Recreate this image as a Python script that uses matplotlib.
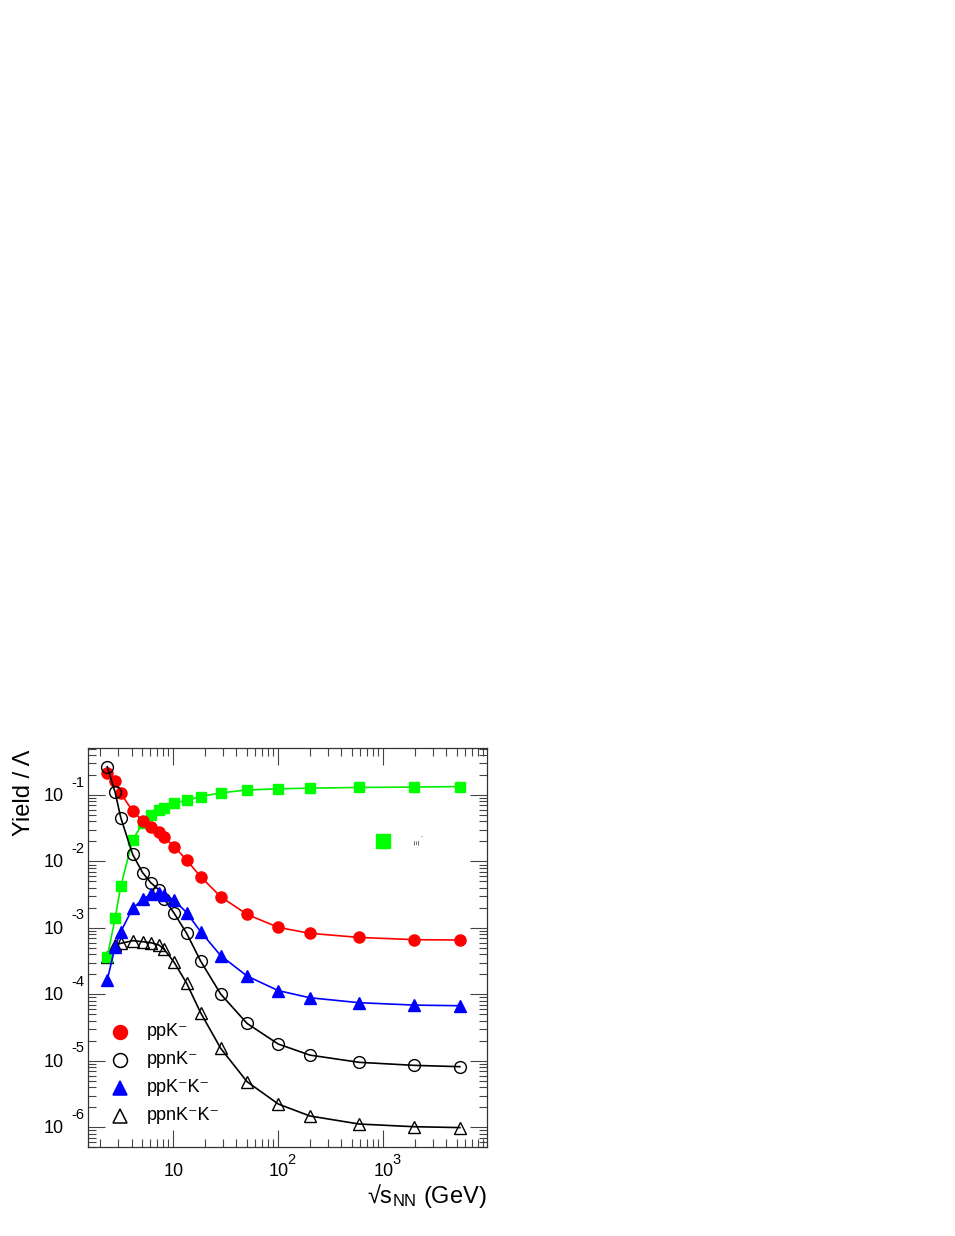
import math
import matplotlib
matplotlib.use("Agg")
import matplotlib.pyplot as plt
from matplotlib.ticker import LogLocator, FixedLocator, NullFormatter
from matplotlib.transforms import blended_transform_factory, offset_copy

plt.rcParams['font.family'] = ['Liberation Sans', 'DejaVu Sans']
plt.rcParams['mathtext.fontset'] = 'custom'
plt.rcParams['mathtext.rm'] = 'Liberation Sans'
plt.rcParams['mathtext.it'] = 'Liberation Sans'

# --- data ---
sqrt_s = [2.35, 2.79, 3.16, 4.1, 5.1, 6.1, 7.3, 8.2, 10.2, 13.4, 18.2, 28.3,
          50.4, 100, 200, 590, 1975, 5370]

ppK = [0.212, 0.163, 0.106, 0.0574, 0.0411, 0.0334, 0.0274, 0.0231, 0.0167,
       0.0105, 0.0059, 0.00295, 0.0016, 0.00102, 0.00083, 0.00072, 0.000666, 0.000658]

ppnK = [0.267, 0.110, 0.0456, 0.0128, 0.00679, 0.0048, 0.00372, 0.00272, 0.00166,
        0.00083, 0.000318, 1.01e-4, 3.66e-5, 1.79e-5, 1.22e-5, 9.5e-6, 8.55e-6, 8.17e-6]

ppKK = [1.65e-4, 5.2e-4, 8.8e-4, 1.97e-3, 2.69e-3, 3.2e-3, 3.32e-3, 3.13e-3, 2.63e-3,
        1.70e-3, 8.8e-4, 3.83e-4, 1.89e-4, 1.14e-4, 8.9e-5, 7.5e-5, 6.9e-5, 6.75e-5]

ppnKK = [3.7e-4, 5.53e-4, 5.86e-4, 6.43e-4, 6.21e-4, 6.0e-4, 5.53e-4, 4.76e-4, 3.03e-4,
         1.47e-4, 5.3e-5, 1.54e-5, 4.86e-6, 2.24e-6, 1.48e-6, 1.12e-6, 1.02e-6, 9.9e-7]

xi = [0.00037, 0.00139, 0.00428, 0.021, 0.0375, 0.05, 0.0594, 0.0644, 0.075,
      0.084, 0.0944, 0.108, 0.119, 0.124, 0.127, 0.130, 0.132, 0.134]

x_major = [10, 100, 1000]
y_major = [1e-1, 1e-2, 1e-3, 1e-4, 1e-5, 1e-6]

W, H = 955, 1236
fig = plt.figure(figsize=(W / 100, H / 100), dpi=100)
ax = fig.add_axes([88.3 / W, 1 - 1147.3 / H, (487.3 - 88.3) / W, (1147.3 - 748.3) / H])
ax.set_xscale('log')
ax.set_yscale('log')

lw = 1.2
ax.plot(sqrt_s, xi, color='#00ee00', lw=lw, marker='s', ms=7.5, mfc='#00ff00',
        mec='#00ff00', zorder=3)
ax.plot(sqrt_s, ppK, color='red', lw=lw, marker='o', ms=8, mfc='red', mec='red', zorder=4)
ax.plot(sqrt_s, ppnK, color='black', lw=lw, marker='o', ms=8.5, mfc='none', mec='black',
        mew=1.0, zorder=4)
ax.plot(sqrt_s, ppKK, color='blue', lw=lw, marker='^', ms=8, mfc='blue', mec='blue', zorder=4)
ax.plot(sqrt_s, ppnKK, color='black', lw=lw, marker='^', ms=8.5, mfc='none', mec='black',
        mew=1.0, zorder=2)

ax.set_xlim(1.55, 9800)
ax.set_ylim(5.0e-7, 0.505)

# ticks ROOT style
ax.xaxis.set_major_locator(FixedLocator(x_major))
ax.xaxis.set_minor_locator(LogLocator(base=10, subs=range(2, 10), numticks=20))
ax.yaxis.set_major_locator(FixedLocator(y_major))
ax.yaxis.set_minor_locator(LogLocator(base=10, subs=range(2, 10), numticks=20))
ax.xaxis.set_major_formatter(NullFormatter())
ax.yaxis.set_major_formatter(NullFormatter())
ax.xaxis.set_minor_formatter(NullFormatter())
ax.yaxis.set_minor_formatter(NullFormatter())
ax.tick_params(which='both', direction='in', top=True, right=True, width=0.8,
               color='#444444')
ax.tick_params(which='major', length=12)
ax.tick_params(which='minor', length=6)
for s in ax.spines.values():
    s.set_linewidth(0.9)
    s.set_color('#333333')

# ROOT-like tick labels: "10" with a detached exponent
base_fs = 13
exp_fs = 10.5
ty = blended_transform_factory(fig.transFigure, ax.transData)
for v in y_major:
    e = int(round(math.log10(v)))
    ax.text(63.5 / W, v, '10', transform=offset_copy(ty, fig=fig, x=0, y=-1.5, units='dots'),
            ha='right', va='center', fontsize=base_fs)
    ax.text(71 / W, v, '%d' % e, transform=offset_copy(ty, fig=fig, x=0, y=12.5, units='dots'),
            ha='left', va='center', fontsize=exp_fs)

tx = blended_transform_factory(ax.transData, fig.transFigure)
for v in x_major:
    e = int(round(math.log10(v)))
    ax.text(v, 1 - 1171 / H, '10', transform=tx, ha='center', va='center', fontsize=base_fs)
    if e != 1:
        ax.text(v, 1 - 1160.5 / H, '%d' % e,
                transform=offset_copy(tx, fig=fig, x=13, y=0, units='dots'),
                ha='center', va='center', fontsize=exp_fs)

# axis titles
fig.text(487 / W, 1 - 1196 / H, '√s$_{\\mathregular{NN}}$ (GeV)',
         ha='right', va='center', fontsize=17)
fig.text(24.5 / W, 1 - 750 / H, 'Yield / Λ', rotation=90, ha='center', va='top', fontsize=17)

# legend (manual, ROOT-like)
leg_rows = [
    ('o', 'red', 'red', 'ppK⁻'),
    ('o', 'none', 'black', 'ppnK⁻'),
    ('^', 'blue', 'blue', 'ppK⁻K⁻'),
    ('^', 'none', 'black', 'ppnK⁻K⁻'),
]
for i, (m, fc, ec, lab) in enumerate(leg_rows):
    ypx = 1032 + 28 * i
    fig.lines.append(plt.Line2D([120 / W], [1 - ypx / H], marker=m, ms=10, mfc=fc, mec=ec,
                                mew=1.1, ls='none', transform=fig.transFigure))
    fig.text(146.5 / W, 1 - ypx / H, lab, ha='left', va='center', fontsize=13)

fig.lines.append(plt.Line2D([383 / W], [1 - 841 / H], marker='s', ms=9.5, mfc='#00ff00',
                            mec='#00ff00', ls='none', transform=fig.transFigure))
fig.text(418 / W, 1 - 842 / H, 'Ξ', rotation=90, ha='center', va='center', fontsize=6)
fig.text(421.5 / W, 1 - 837 / H, '-', ha='center', va='center', fontsize=4)

fig.savefig('out.png', dpi=100)
